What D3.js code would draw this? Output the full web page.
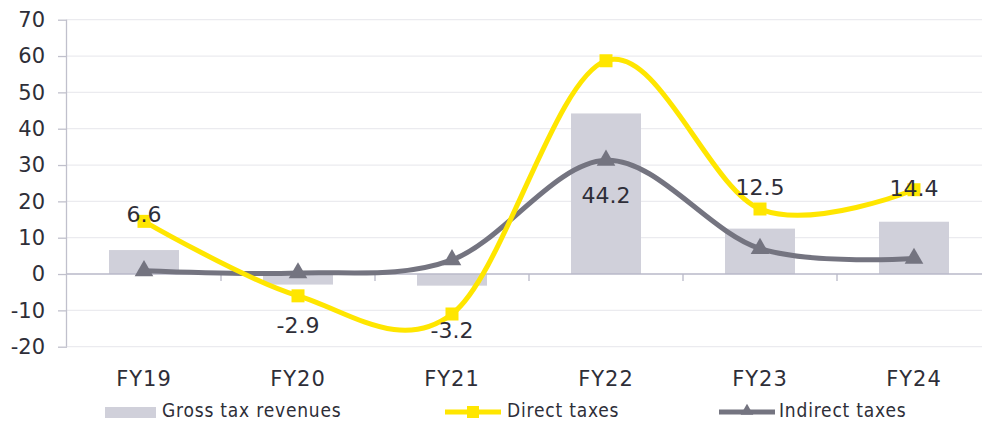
<!DOCTYPE html>
<html><head><meta charset="utf-8">
<script src="https://cdn.jsdelivr.net/npm/d3@7"></script>
<style>
html,body{margin:0;padding:0;background:#fff;}
svg{display:block;}
</style></head>
<body>
<svg id="chart" width="982" height="423"></svg>
<script>
const categories = ["FY19","FY20","FY21","FY22","FY23","FY24"];
const grossTax = [6.6, -2.9, -3.2, 44.2, 12.5, 14.4];
const directTaxes = [14.5, -6.0, -11.0, 58.7, 17.9, 23.2];
const indirectTaxes = [0.9, 0.3, 3.9, 31.3, 7.0, 4.3];
const labelAnchor = [16.5, -14.0, -15.4, 21.7, 23.9, 23.7];
const yTicks = [-20,-10,0,10,20,30,40,50,60,70];
const seriesNames = ["Gross tax revenues","Direct taxes","Indirect taxes"];

(function(){
const svg = d3.select("#chart");
const font = "'DejaVu Sans', Verdana, sans-serif";
const textColor = "#2e2e38";
const mLeft = 67, mRight = 991, mTop = 19.7, mBottom = 346.7;

const x = d3.scaleBand().domain(categories).range([mLeft, mRight]).paddingInner(0).paddingOuter(0);
const y = d3.scaleLinear().domain([-20, 70]).range([mBottom, mTop]);

// gridlines
svg.append("g").selectAll("line").data(yTicks.filter(d => d !== 0)).join("line")
  .attr("x1", mLeft).attr("x2", mRight)
  .attr("y1", d => y(d)).attr("y2", d => y(d))
  .attr("stroke", "#ebebef").attr("stroke-width", 1.3);

// y axis
const yAxis = svg.append("g").attr("transform", `translate(${mLeft},0)`)
  .call(d3.axisLeft(y).tickValues(yTicks).tickSize(9).tickPadding(13).tickFormat(d => String(d)));
yAxis.select(".domain").attr("stroke", "#c0c0cc").attr("stroke-width", 1.3).attr("d", `M-0.5,${mTop}V${mBottom}`);
yAxis.selectAll(".tick line").attr("stroke", "#c0c0cc").attr("stroke-width", 1.3);
yAxis.selectAll(".tick text").attr("font-family", font).attr("font-size", 21).attr("fill", textColor);

// bars
const bw = 70;
svg.append("g").selectAll("rect").data(grossTax).join("rect")
  .attr("x", (d,i) => x(categories[i]) + x.bandwidth()/2 - bw/2)
  .attr("width", bw)
  .attr("y", d => y(Math.max(0, d)))
  .attr("height", d => Math.abs(y(d) - y(0)))
  .attr("fill", "#d0d0da");

// zero axis
svg.append("line").attr("x1", mLeft).attr("x2", mRight).attr("y1", y(0)).attr("y2", y(0))
  .attr("stroke", "#b8b8c8").attr("stroke-width", 1.5);
svg.append("g").selectAll("line").data(categories.slice(1)).join("line")
  .attr("x1", d => x(d)).attr("x2", d => x(d))
  .attr("y1", y(0)).attr("y2", y(0) + 7)
  .attr("stroke", "#b8b8c8").attr("stroke-width", 1.3);

// x labels
svg.append("g").selectAll("text").data(categories).join("text")
  .attr("x", d => x(d) + x.bandwidth()/2).attr("y", 386)
  .attr("text-anchor", "middle").attr("font-family", font).attr("font-size", 21)
  .attr("letter-spacing", 1).attr("fill", textColor).text(d => d);

const cx = i => x(categories[i]) + x.bandwidth()/2;
const line = d3.line().x((d,i) => cx(i)).y(d => y(d)).curve(d3.curveCardinal.tension(0));

svg.append("path").datum(indirectTaxes).attr("d", line)
  .attr("fill", "none").attr("stroke", "#747480").attr("stroke-width", 5);
svg.append("path").datum(directTaxes).attr("d", line)
  .attr("fill", "none").attr("stroke", "#ffe600").attr("stroke-width", 5);

const tri = d3.symbol().type(d3.symbolTriangle).size(150);
svg.append("g").selectAll("path").data(indirectTaxes).join("path")
  .attr("d", tri).attr("transform", (d,i) => `translate(${cx(i)},${y(d)})`)
  .attr("fill", "#747480");
svg.append("g").selectAll("rect").data(directTaxes).join("rect")
  .attr("x", (d,i) => cx(i) - 6.5).attr("y", d => y(d) - 6.5)
  .attr("width", 13).attr("height", 13).attr("fill", "#ffe600");

// data labels
svg.append("g").selectAll("text").data(grossTax).join("text")
  .attr("x", (d,i) => cx(i)).attr("y", (d,i) => y(labelAnchor[i]))
  .attr("dy", "0.36em").attr("text-anchor", "middle")
  .attr("font-family", font).attr("font-size", 22).attr("fill", textColor)
  .text(d => d.toFixed(1));

// legend
const lf = "'DejaVu Sans Condensed', 'DejaVu Sans', sans-serif";
const ly = 412;
const lg = svg.append("g");
lg.append("rect").attr("x", 105).attr("y", ly - 5).attr("width", 51).attr("height", 11).attr("fill", "#d0d0da");
lg.append("line").attr("x1", 445).attr("x2", 501).attr("y1", ly).attr("y2", ly).attr("stroke", "#ffe600").attr("stroke-width", 5);
lg.append("rect").attr("x", 473 - 6).attr("y", ly - 6).attr("width", 12).attr("height", 12).attr("fill", "#ffe600");
lg.append("line").attr("x1", 719).attr("x2", 775).attr("y1", ly).attr("y2", ly).attr("stroke", "#747480").attr("stroke-width", 5);
lg.append("path").attr("d", d3.symbol().type(d3.symbolTriangle).size(70)).attr("transform", `translate(747,${ly - 1})`).attr("fill", "#747480");
const lx = [162, 507, 779];
lg.selectAll("text").data(seriesNames).join("text")
  .attr("x", (d,i) => lx[i]).attr("y", 417)
  .attr("font-family", lf).attr("font-size", 19).attr("letter-spacing", 0.8)
  .attr("fill", textColor).text(d => d);
})();
</script>
</body></html>
